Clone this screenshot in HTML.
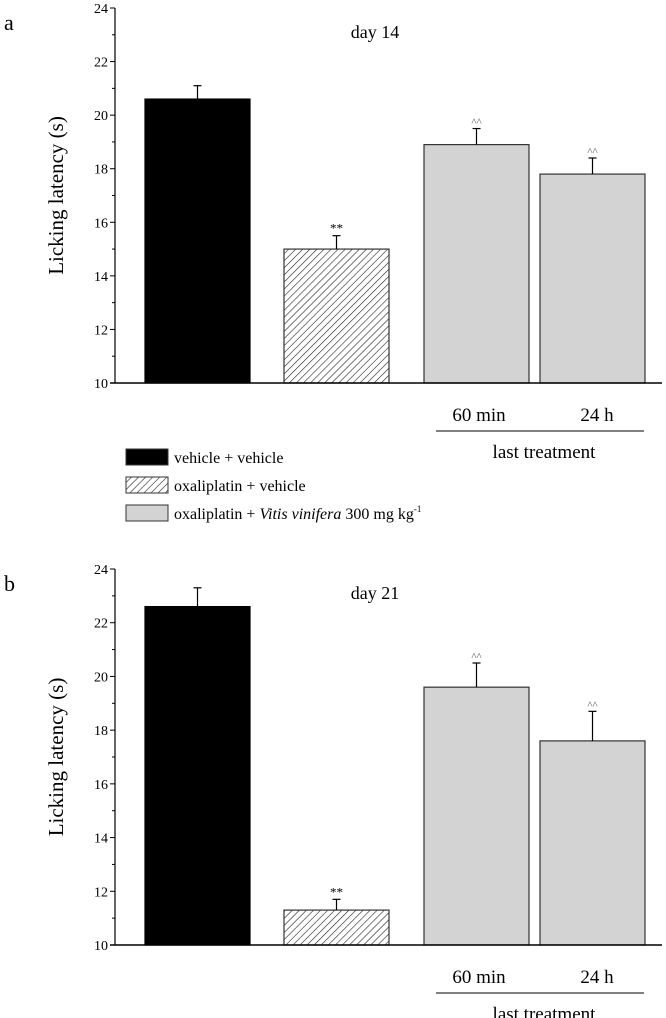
<!DOCTYPE html>
<html><head><meta charset="utf-8"><style>
html,body{margin:0;padding:0;background:#fff;}
svg{display:block;font-family:"Liberation Serif",serif;}
</style></head><body>
<svg id="chart" width="666" height="1018" viewBox="0 0 666 1018">
<defs>
<pattern id="hatch" patternUnits="userSpaceOnUse" width="5" height="5" patternTransform="rotate(45)">
<rect width="5" height="5" fill="#fff"/><line x1="0" y1="0" x2="0" y2="5" stroke="#222" stroke-width="1.2"/>
</pattern>
</defs>
</svg>
<script>
const categories = ["vehicle + vehicle","oxaliplatin + vehicle","oxaliplatin + Vitis vinifera 60 min","oxaliplatin + Vitis vinifera 24 h"];
const valuesDay14 = [20.6, 15.0, 18.9, 17.8];
const errorsDay14 = [0.5, 0.5, 0.6, 0.6];
const valuesDay21 = [22.6, 11.3, 19.6, 17.6];
const errorsDay21 = [0.7, 0.4, 0.9, 1.1];
const marksText = ["", "**", "^^", "^^"];
const yTicks = [10, 12, 14, 16, 18, 20, 22, 24];

const svg = document.getElementById('chart');
const NS = "http://www.w3.org/2000/svg";
function mk(tag, attrs, parent){const e=document.createElementNS(NS,tag);for(const k in attrs)e.setAttribute(k,attrs[k]);(parent||svg).appendChild(e);return e;}
const fills = ["#000","url(#hatch)","#d3d3d3","#d3d3d3"];
const barX = [145, 284, 424, 540];
const barW = 105;

function panel(g, top, bottom, values, errors, letter, title, name){
  const grp = mk('g', {});
  
  
  const ymin=10, ymax=24;
  const y = v => bottom - (v-ymin)/(ymax-ymin)*(bottom-top);
  const ax = 115;
  // bars
  values.forEach((v,i)=>{
    const x=barX[i];
    const r=mk('rect',{x:x,y:y(v),width:barW,height:bottom-y(v),fill:fills[i],stroke:i==0?'#000':'#333','stroke-width':1.2},grp);
    
    
    const cx=x+barW/2;
    const e=mk('line',{x1:cx,x2:cx,y1:y(v),y2:y(v+errors[i]),stroke:'#000','stroke-width':1.2},grp);
    
    
    mk('line',{x1:cx-4,x2:cx+4,y1:y(v+errors[i]),y2:y(v+errors[i]),stroke:'#000','stroke-width':1.2},grp);
    if(marksText[i]){
      const t=mk('text',{x:cx,y:y(v+errors[i])-3,'text-anchor':'middle','font-size':i==1?13:11,fill:i==1?'#000':'#555'},grp);
      t.textContent=marksText[i];
      
      
    }
  });
  // axes
  const ya=mk('line',{x1:ax,x2:ax,y1:top,y2:bottom,stroke:'#000','stroke-width':1.2},grp);
  
  
  const xa=mk('line',{x1:ax-5,x2:662,y1:bottom,y2:bottom,stroke:'#000','stroke-width':1.5},grp);
  
  
  for(let v=ymin; v<=ymax; v++){
    mk('line',{x1:ax-(v%2==0?5:3),x2:ax,y1:y(v),y2:y(v),stroke:'#000','stroke-width':1},grp);
  }
  yTicks.forEach(v=>{
    const t=mk('text',{x:ax-7,y:y(v)+5,'text-anchor':'end','font-size':14},grp);
    t.textContent=v;
    
    
  });
  const yt=mk('text',{x:0,y:0,'text-anchor':'middle','font-size':21,transform:`translate(63,${(top+bottom)/2}) rotate(-90)`},grp);
  yt.textContent='Licking latency (s)';
  
  
  const l=mk('text',{x:4,y:top+22,'font-size':22},grp);
  l.textContent=letter;
  
  
  const tt=mk('text',{x:375,y:top+30,'text-anchor':'middle','font-size':18},grp);
  tt.textContent=title;
  
  
  const a=mk('text',{x:479,y:bottom+38,'text-anchor':'middle','font-size':19},grp);
  a.textContent='60 min';
  
  
  const b=mk('text',{x:597,y:bottom+38,'text-anchor':'middle','font-size':19},grp);
  b.textContent='24 h';
  
  
  mk('line',{x1:436,x2:644,y1:bottom+48,y2:bottom+48,stroke:'#000','stroke-width':1},grp);
  const lt=mk('text',{x:544,y:bottom+75,'text-anchor':'middle','font-size':19},grp);
  lt.textContent='last treatment';
  
  
}
panel(null, 8, 383, valuesDay14, errorsDay14, 'a', 'day 14', 'panel-day14');
panel(null, 569, 945, valuesDay21, errorsDay21, 'b', 'day 21', 'panel-day21');

// legend
const lg=mk('g',{});


const rows=[449,477,505];
const labels=['vehicle + vehicle','oxaliplatin + vehicle',null];
rows.forEach((ry,i)=>{
  const r=mk('rect',{x:126,y:ry,width:42,height:16,fill:i==0?'#000':(i==1?'url(#hatch)':'#d3d3d3'),stroke:'#333','stroke-width':1},lg);
  
  
  const t=mk('text',{x:174,y:ry+14,'font-size':16},lg);
  
  
  if(labels[i]) t.textContent=labels[i];
  else t.innerHTML='oxaliplatin + <tspan font-style="italic">Vitis vinifera</tspan> 300 mg kg<tspan font-size="9" dy="-7">-1</tspan>';
});
</script>
</body></html>
